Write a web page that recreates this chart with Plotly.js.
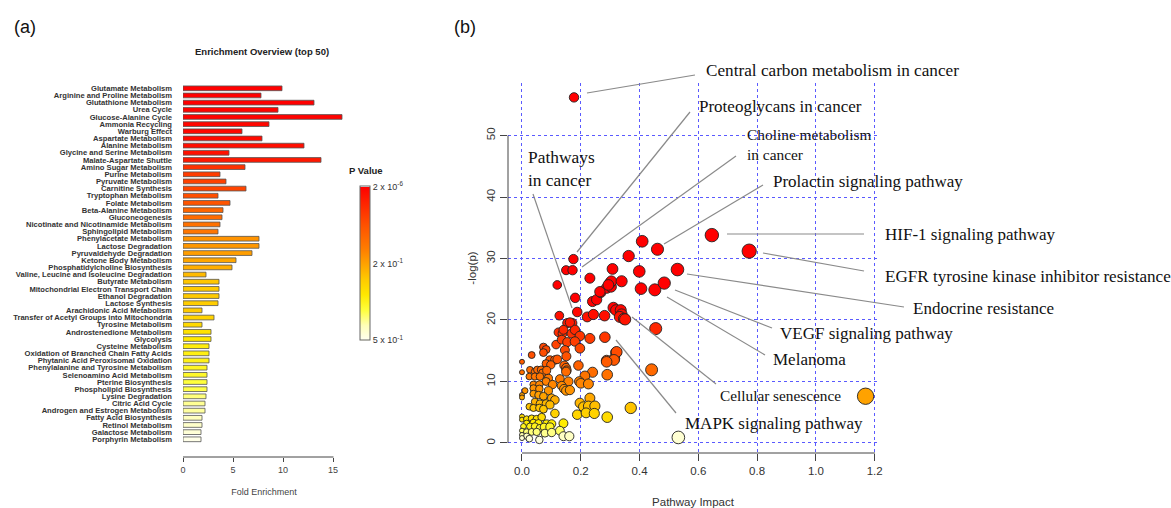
<!DOCTYPE html>
<html>
<head>
<meta charset="utf-8">
<script src="https://cdn.plot.ly/plotly-3.0.1.min.js"></script>
<style>html,body{margin:0;padding:0;background:#fff;}#chart{width:1171px;height:508px;}</style>
</head>
<body>
<div id="chart"></div>
<script>
// ---------- Panel (a): enrichment overview ----------
const pathways = [
  "Glutamate Metabolism","Arginine and Proline Metabolism","Glutathione Metabolism","Urea Cycle",
  "Glucose-Alanine Cycle","Ammonia Recycling","Warburg Effect","Aspartate Metabolism","Alanine Metabolism",
  "Glycine and Serine Metabolism","Malate-Aspartate Shuttle","Amino Sugar Metabolism","Purine Metabolism",
  "Pyruvate Metabolism","Carnitine Synthesis","Tryptophan Metabolism","Folate Metabolism",
  "Beta-Alanine Metabolism","Gluconeogenesis","Nicotinate and Nicotinamide Metabolism","Sphingolipid Metabolism",
  "Phenylacetate Metabolism","Lactose Degradation","Pyruvaldehyde Degradation","Ketone Body Metabolism",
  "Phosphatidylcholine Biosynthesis","Valine, Leucine and Isoleucine Degradation","Butyrate Metabolism",
  "Mitochondrial Electron Transport Chain","Ethanol Degradation","Lactose Synthesis","Arachidonic Acid Metabolism",
  "Transfer of Acetyl Groups into Mitochondria","Tyrosine Metabolism","Androstenedione Metabolism","Glycolysis",
  "Cysteine Metabolism","Oxidation of Branched Chain Fatty Acids","Phytanic Acid Peroxisomal Oxidation",
  "Phenylalanine and Tyrosine Metabolism","Selenoamino Acid Metabolism","Pterine Biosynthesis",
  "Phospholipid Biosynthesis","Lysine Degradation","Citric Acid Cycle","Androgen and Estrogen Metabolism",
  "Fatty Acid Biosynthesis","Retinol Metabolism","Galactose Metabolism","Porphyrin Metabolism"
];
const foldEnrichment = [
  9.9,7.8,13.1,9.5,15.9,8.6,5.9,7.9,12.1,4.6,13.8,6.2,3.7,4.3,6.3,3.5,4.7,4.0,3.9,3.7,3.5,
  7.6,7.6,6.9,5.3,4.9,2.3,3.6,3.6,3.6,3.5,1.9,3.1,1.9,2.8,2.8,2.6,2.6,2.6,2.4,2.4,2.4,2.4,
  2.3,2.2,2.2,1.9,1.9,1.8,1.8
];
// colour level (1 = smallest p, 0 = largest p)
const pLevel = [
  1.0,1.0,1.0,0.99,0.99,0.98,0.98,0.97,0.96,0.95,0.93,0.85,0.82,0.80,0.79,0.76,0.74,0.68,0.66,0.64,0.62,
  0.54,0.53,0.51,0.49,0.47,0.44,0.41,0.40,0.40,0.39,0.40,0.37,0.35,0.32,0.30,0.28,0.27,0.26,0.24,0.23,
  0.20,0.19,0.15,0.13,0.12,0.09,0.07,0.05,0.02
];
const foldTicks = [0,5,10,15];
const pTickText = ["5 x 10<sup>-1</sup>","2 x 10<sup>-1</sup>","2 x 10<sup>-6</sup>"];

// ---------- Panel (b): pathway impact ----------
const impact = [
  0.177,0.175,0.409,0.363,0.461,0.646,0.773,0.150,0.172,0.308,0.399,0.529,
  0.120,0.231,0.181,0.188,0.127,0.222,0.243,0.240,0.254,0.268,0.288,0.303,0.299,0.304,0.339,0.405,
  0.452,0.484,0.281,0.311,0.320,0.336,0.339,0.333,0.347,0.351,0.455,0.154,0.171,0.124,0.138,0.169,
  0.180,0.197,0.231,0.282,0.116,0.135,0.154,0.180,0.197,0.073,0.082,0.073,0.033,0.146,0.151,0.320,
  0.288,0.314,0.0,0.095,0.112,0.120,0.082,0.098,0.144,0.150,0.192,0.152,0.0,0.027,0.044,0.052,
  0.065,0.070,0.084,0.150,0.240,0.214,0.290,0.441,0.025,0.044,0.061,0.090,0.082,0.129,0.158,0.195,
  0.200,0.226,0.039,0.059,0.104,0.135,0.010,0.039,0.059,0.090,0.143,0.150,0.163,0.0,0.0,0.039,
  0.056,0.073,0.101,0.112,0.044,0.061,0.082,0.095,0.025,0.039,0.059,0.073,0.231,0.197,0.209,0.226,
  0.248,0.370,0.112,0.188,0.218,0.246,0.290,0.0,0.0,0.016,0.033,0.050,0.067,0.141,0.016,0.039,
  0.056,0.084,0.101,0.005,0.027,0.044,0.061,0.075,0.095,0.0,0.016,0.033,0.050,0.078,0.101,0.129,
  0.141,0.161,0.0,0.016,0.0,0.025,0.059,0.532,1.169,0.265,0.294,0.163,0.141,0.322,0.313,0.288
];
const logP = [
  56.2,29.9,32.8,30.4,31.5,33.8,31.2,28.1,28.1,28.3,27.9,28.2,
  25.7,26.8,23.6,21.3,20.7,20.5,20.9,23.0,23.3,24.5,25.2,25.4,26.0,26.3,26.3,25.1,
  24.9,26.0,20.7,22.0,21.6,21.6,20.9,20.5,20.2,20.1,18.6,19.5,19.5,18.0,17.8,17.8,
  18.4,17.4,17.0,17.2,16.0,16.8,16.4,16.5,15.4,15.6,15.2,14.7,14.3,15.1,14.1,14.7,
  13.4,13.7,13.2,13.5,13.5,13.6,12.9,12.7,12.6,12.2,12.6,11.8,11.5,11.9,11.6,11.9,
  11.9,11.4,11.8,11.6,11.5,10.9,11.1,11.9,10.8,10.8,10.8,10.5,10.0,10.4,10.0,10.0,
  9.7,9.6,9.5,9.5,9.5,9.3,8.5,8.9,8.8,8.5,8.8,8.5,8.6,7.8,7.4,8.0,
  7.8,7.6,7.3,7.0,6.7,6.4,6.4,6.2,5.9,5.7,5.7,5.5,7.3,6.5,5.9,6.0,
  6.0,5.7,4.8,4.6,4.9,4.8,4.2,4.3,3.8,3.9,4.0,3.9,4.2,3.2,3.2,3.3,
  3.2,3.1,3.1,2.7,2.7,2.7,2.4,2.6,2.6,2.0,1.8,1.8,1.8,1.6,1.7,2.0,
  1.1,1.1,1.3,1.1,0.8,0.7,0.5,0.9,7.6,24.6,25.7,19.6,18.4,14.8,13.5,13.2
];
const impactTicks = [0,0.2,0.4,0.6,0.8,1.0,1.2];
const logPTicks = [0,10,20,30,40,50];

const labels = [
  {text:"Central carbon metabolism in cancer", lx:704, ly:71, size:17.2, l:[587,93,695,75]},
  {text:"Proteoglycans in cancer", lx:697, ly:107, size:17, l:[577,252,690,112]},
  {text:"Choline metabolism<br>in cancer", lx:745, ly:145, size:15.4, l:[582,267,736,156]},
  {text:"Pathways<br>in cancer", lx:526, ly:168, size:17.4, l:[533,194,572,308]},
  {text:"Prolactin signaling pathway", lx:771, ly:181, size:17, l:[664,244,763,185]},
  {text:"HIF-1 signaling pathway", lx:883, ly:234, size:17, l:[727,234,864,234]},
  {text:"EGFR tyrosine kinase inhibitor resistance", lx:883, ly:276, size:17.1, l:[763,253,864,271]},
  {text:"Endocrine resistance", lx:911, ly:308, size:17, l:[687,274,904,307]},
  {text:"VEGF signaling pathway", lx:778, ly:333, size:17, l:[675,290,772,328]},
  {text:"Melanoma", lx:771, ly:359, size:17, l:[667,297,765,355]},
  {text:"Cellular senescence", lx:718, ly:395, size:15.3, l:[632,317,716,384]},
  {text:"MAPK signaling pathway", lx:683, ly:423, size:17, l:[616,340,676,413]}
];

// ---------- helpers ----------
const W = 1171, H = 508;
const fx = px => px / W;
const fy = py => 1 - py / H;

const barScale = [
  [0,'#FFFFF4'],[0.1,'#FFFFB8'],[0.2,'#FFFF3C'],[0.3,'#FFE800'],[0.4,'#FFCA00'],
  [0.5,'#FFA200'],[0.6,'#FF7C00'],[0.75,'#FF5200'],[0.9,'#FF2200'],[1,'#FF0000']
];
const dotScale = [
  [0,'#FFFFF0'],[0.045,'#FFFFD0'],[0.09,'#FFFF66'],[0.136,'#FFF000'],[0.2,'#FFD800'],
  [0.27,'#FFC000'],[0.36,'#FF9C00'],[0.5,'#FF7200'],[0.64,'#FF5200'],[0.77,'#FF3A00'],
  [0.91,'#FF1500'],[1,'#FF0000']
];

const barTrace = {
  type:'bar', orientation:'h', x: foldEnrichment, y: pathways,
  xaxis:'x', yaxis:'y', width:0.66,
  marker:{
    color: pLevel, cmin:0, cmax:1, colorscale: barScale, showscale:true,
    line:{color:'#555', width:0.8},
    colorbar:{
      x: fx(360), xanchor:'left', y: fy(263.5), yanchor:'middle',
      len: (341-187)/H, lenmode:'fraction', thickness:10, thicknessmode:'pixels',
      xpad:0, ypad:0, outlinewidth:1, outlinecolor:'#666',
      tickvals:[0.002,0.5,0.998], ticktext: pTickText, ticks:'',
      tickfont:{family:'Liberation Sans, Arial, sans-serif', size:9, color:'#333'}
    }
  },
  hoverinfo:'x+y'
};

const dotTrace = {
  type:'scatter', mode:'markers', x: impact, y: logP, xaxis:'x2', yaxis:'y2',
  marker:{
    color: logP, cmin:0, cmax:22, colorscale: dotScale, showscale:false,
    size: impact.map(v => 5 + 10.5*Math.sqrt(v)),
    line:{color:'#222', width:0.9}, opacity:1
  },
  cliponaxis:false
};

const shapes = [];
// R-style axis lines
shapes.push({type:'line', xref:'paper', yref:'paper', x0:fx(183), x1:fx(333.5), y0:fy(457), y1:fy(457), line:{color:'#444', width:1}});
shapes.push({type:'line', xref:'paper', yref:'paper', x0:fx(522), x1:fx(875), y0:fy(453), y1:fy(453), line:{color:'#444', width:1}});
shapes.push({type:'line', xref:'paper', yref:'paper', x0:fx(508), x1:fx(508), y0:fy(443), y1:fy(135.5), line:{color:'#444', width:1}});
labels.forEach(o => {
  shapes.push({type:'line', xref:'paper', yref:'paper', x0:fx(o.l[0]), y0:fy(o.l[1]), x1:fx(o.l[2]), y1:fy(o.l[3]), line:{color:'#8a8a8a', width:1.2}});
});

const annotations = [
  {text:'(a)', x:fx(12), y:fy(27), xref:'paper', yref:'paper', xanchor:'left', yanchor:'middle', showarrow:false, font:{family:'Liberation Sans, Arial, sans-serif', size:18, color:'#111'}},
  {text:'(b)', x:fx(452), y:fy(27), xref:'paper', yref:'paper', xanchor:'left', yanchor:'middle', showarrow:false, font:{family:'Liberation Sans, Arial, sans-serif', size:18, color:'#111'}},
  {text:'Enrichment Overview (top 50)', x:fx(262), y:fy(51), xref:'paper', yref:'paper', xanchor:'center', yanchor:'middle', showarrow:false, font:{family:'Liberation Sans, Arial, sans-serif', size:9.5, color:'#222', weight:'bold'}},
  {text:'P Value', x:fx(366), y:fy(170), xref:'paper', yref:'paper', xanchor:'center', yanchor:'middle', showarrow:false, font:{family:'Liberation Sans, Arial, sans-serif', size:9.5, color:'#222', weight:'bold'}}
];
labels.forEach(o => {
  annotations.push({text:o.text, x:fx(o.lx), y:fy(o.ly), xref:'paper', yref:'paper', xanchor:'left', yanchor:'middle', align:'left', showarrow:false,
    font:{family:'Liberation Serif, Times New Roman, serif', size:o.size, color:'#111'}});
});

const layout = {
  width:W, height:H, margin:{l:0,r:0,t:0,b:0}, paper_bgcolor:'#fff', plot_bgcolor:'rgba(0,0,0,0)',
  showlegend:false, bargap:0.3,
  xaxis:{
    domain:[fx(183), fx(345)], range:[0,16.2], anchor:'y',
    tickvals: foldTicks, ticks:'outside', ticklen:4, tickcolor:'#444', tickwidth:1,
    showline:false, showgrid:false, zeroline:false,
    tickfont:{family:'Liberation Sans, Arial, sans-serif', size:9, color:'#444'},
    title:{text:'Fold Enrichment', standoff:14, font:{family:'Liberation Sans, Arial, sans-serif', size:9, color:'#444'}}
  },
  yaxis:{
    domain:[fy(457), fy(80)], type:'category', range:[51.47,-1.16], anchor:'x',
    categoryorder:'array', categoryarray: pathways,
    tickmode:'array', tickvals: pathways, ticktext: pathways,
    ticks:'', ticklabelstandoff:10, showline:false, showgrid:false, zeroline:false,
    tickfont:{family:'Liberation Sans, Arial, sans-serif', size:7.6, color:'#333', weight:'bold'}
  },
  xaxis2:{
    domain:[fx(508), fx(878)], range:[-0.0476,1.2113], anchor:'y2',
    tickvals: impactTicks, ticktext: impactTicks.map(v => v.toFixed(1)),
    ticks:'outside', ticklen:7, tickcolor:'#444', tickwidth:1,
    showline:false, zeroline:false, showgrid:true, gridcolor:'#5a5aff', gridwidth:1, griddash:'dot',
    tickfont:{family:'Liberation Sans, Arial, sans-serif', size:11.5, color:'#333'},
    title:{text:'Pathway Impact', standoff:22, font:{family:'Liberation Sans, Arial, sans-serif', size:11.5, color:'#333'}}
  },
  yaxis2:{
    domain:[fy(453), fy(83)], range:[-1.63,58.54], anchor:'x2',
    tickvals: logPTicks, ticks:'outside', ticklen:7, tickcolor:'#444', tickwidth:1, tickangle:-90,
    showline:false, zeroline:false, showgrid:true, gridcolor:'#5a5aff', gridwidth:1, griddash:'dot',
    tickfont:{family:'Liberation Sans, Arial, sans-serif', size:11.5, color:'#333'},
    title:{text:'-log(p)', standoff:6, font:{family:'Liberation Sans, Arial, sans-serif', size:11.5, color:'#333'}}
  },
  shapes: shapes,
  annotations: annotations
};

Plotly.newPlot('chart', [barTrace, dotTrace], layout, {displayModeBar:false, staticPlot:true});
</script>
</body>
</html>
